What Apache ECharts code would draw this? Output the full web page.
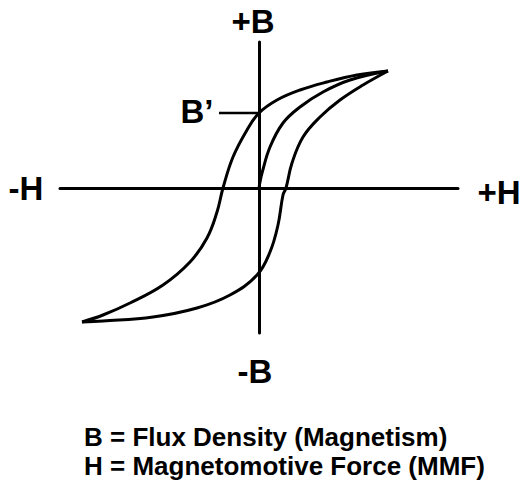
<!DOCTYPE html>
<html>
<head>
<meta charset="utf-8">
<title>Hysteresis loop</title>
<script src="https://cdn.jsdelivr.net/npm/echarts@6/dist/echarts.min.js"></script>
<style>
  html, body { margin: 0; padding: 0; background: #fff; }
  #chart { width: 524px; height: 485px; }
</style>
</head>
<body>
<div id="chart"></div>
<script>
// 曲线数据 (H, B)
var upperBranch = [
  [129, 117], [98, 113], [68, 106], [41, 98], [18, 88], [0, 75], [-12, 58],
  [-26, 31], [-36, 0], [-42, -24], [-52, -50], [-69, -74], [-96, -97],
  [-129, -115], [-156, -127], [-177, -134]
];
var lowerBranch = [
  [-177, -134], [-156, -133], [-106, -129], [-62, -120], [-29, -107], [-2, -87],
  [11, -64], [19, -37], [24, -7], [27, 0], [33, 25], [44, 51], [61, 71],
  [81, 88], [104, 103], [129, 117]
];
var initialCurve = [
  [0, 0], [1, 6], [3, 15], [11, 41], [24, 65], [41, 81], [64, 96], [91, 108], [129, 117]
];
var remanence = [[-40, 75], [0, 75]];
var axisLabels = ['+B', '-B', '-H', '+H', 'B\u2019'];
var legendLines = ['B = Flux Density (Magnetism)', 'H = Magnetomotive Force (MMF)'];

var myChart = echarts.init(document.getElementById('chart'), null, { renderer: 'svg' });

var lineStyle = { color: '#000', width: 3 };
function curve(data) {
  return {
    type: 'line',
    data: data,
    showSymbol: false,
    smooth: 0.4,
    lineStyle: lineStyle,
    silent: true,
    animation: false
  };
}

var font = 'bold 33px "Liberation Sans", Arial, sans-serif';
var legendFont = 'bold 26px "Liberation Sans", Arial, sans-serif';

myChart.setOption({
  backgroundColor: '#fff',
  animation: false,
  grid: { left: 60, right: 66, top: 42, bottom: 152, containLabel: false },
  xAxis: {
    type: 'value', min: -199, max: 199,
    axisLine: { onZero: true, lineStyle: lineStyle },
    axisTick: { show: false }, axisLabel: { show: false }, splitLine: { show: false }
  },
  yAxis: {
    type: 'value', min: -145, max: 146,
    axisLine: { onZero: true, lineStyle: lineStyle },
    axisTick: { show: false }, axisLabel: { show: false }, splitLine: { show: false }
  },
  graphic: [
    { type: 'text', x: 253, y: 21, style: { text: axisLabels[0], font: font, fill: '#000', textAlign: 'center', textVerticalAlign: 'middle' } },
    { type: 'text', x: 255, y: 371, style: { text: axisLabels[1], font: font, fill: '#000', textAlign: 'center', textVerticalAlign: 'middle' } },
    { type: 'text', x: 26, y: 188, style: { text: axisLabels[2], font: font, fill: '#000', textAlign: 'center', textVerticalAlign: 'middle' } },
    { type: 'text', x: 499, y: 192, style: { text: axisLabels[3], font: font, fill: '#000', textAlign: 'center', textVerticalAlign: 'middle' } },
    { type: 'text', x: 197, y: 111, style: { text: axisLabels[4], font: font, fill: '#000', textAlign: 'center', textVerticalAlign: 'middle' } },
    { type: 'text', x: 84, y: 437, style: { text: legendLines[0], font: legendFont, fill: '#000', textAlign: 'left', textVerticalAlign: 'middle' } },
    { type: 'text', x: 84, y: 466, style: { text: legendLines[1], font: legendFont, fill: '#000', textAlign: 'left', textVerticalAlign: 'middle' } }
  ],
  series: [
    curve(upperBranch),
    curve(lowerBranch),
    curve(initialCurve),
    { type: 'line', data: remanence, showSymbol: false, lineStyle: { color: '#000', width: 2.5 }, silent: true }
  ]
});

window.onresize = function () {
  myChart.resize();
};
</script>
</body>
</html>
